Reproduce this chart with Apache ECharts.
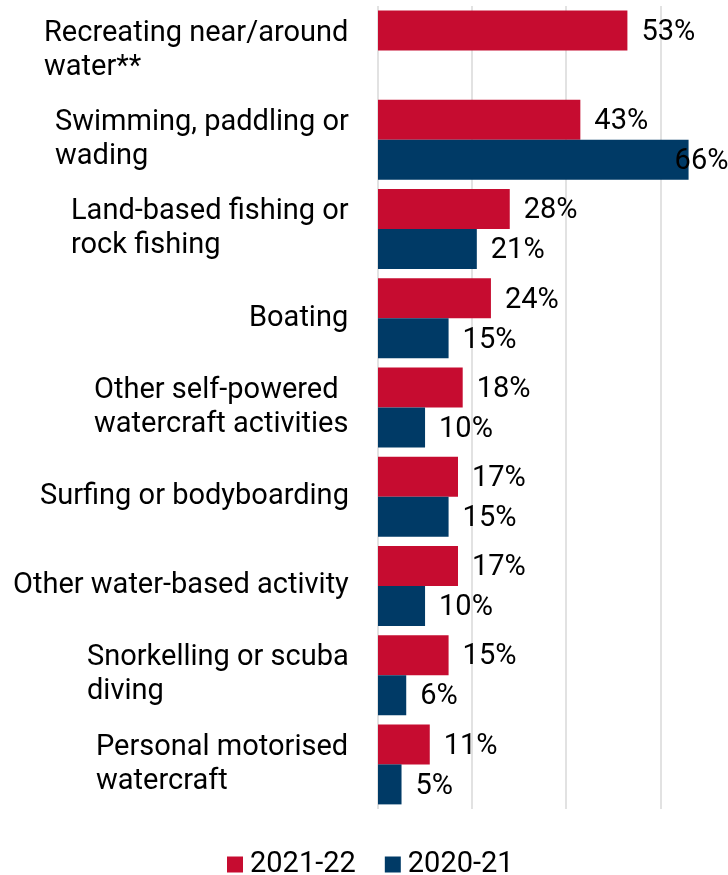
<!DOCTYPE html>
<html>
<head>
<meta charset="utf-8">
<script src="https://cdn.jsdelivr.net/npm/echarts@6/dist/echarts.min.js"></script>
<style>
  html, body { margin: 0; padding: 0; background: #fff; }
  #chart { width: 728px; height: 875px; }
</style>
</head>
<body>
<div id="chart"></div>
<script>
// Activity categories (top to bottom) and participation shares, %
const activities = [
  'Recreating near/around\nwater**',
  'Swimming, paddling or\nwading',
  'Land-based fishing or\nrock fishing',
  'Boating',
  'Other self-powered\nwatercraft activities',
  'Surfing or bodyboarding',
  'Other water-based activity',
  'Snorkelling or scuba\ndiving',
  'Personal motorised\nwatercraft'
];
const share2122 = [53, 43, 28, 24, 18, 17, 17, 15, 11];
const share2021 = [null, 66, 21, 15, 10, 15, 10, 6, 5];
const seriesNames = ['2021-22', '2020-21'];

const FONT = 'Roboto';
const CAT_SIZE = 29;
const VAL_SIZE = 29;

// Measure each wrapped label so its lines sit left-aligned inside a right-aligned block
const ctx = document.createElement('canvas').getContext('2d');
ctx.font = CAT_SIZE + 'px ' + FONT;
const rich = {};
activities.forEach((name, i) => {
  const w = Math.max(...name.split('\n').map(s => ctx.measureText(s).width));
  rich['c' + i] = {
    width: Math.ceil(w) + 1,
    align: 'left',
    fontFamily: FONT,
    fontSize: CAT_SIZE,
    lineHeight: 34,
    color: '#000'
  };
});

const valueLabel = {
  show: true,
  position: 'right',
  distance: 14,
  offset: [0, 2],
  formatter: p => p.value + '%',
  fontFamily: FONT,
  fontSize: VAL_SIZE,
  color: '#000'
};

// The widest bar's label is pulled back so it stays on the canvas
const data2021 = share2021.map(v => v === 66
  ? { value: v, label: { offset: [-28, 2] } }
  : v);

const grid = '#d9d9d9';

const chart = echarts.init(document.getElementById('chart'), null, { renderer: 'canvas' });
chart.setOption({
  animation: false,
  backgroundColor: '#fff',
  grid: { left: 378, right: 20.6, top: 6, bottom: 66, containLabel: false },
  legend: {
    data: seriesNames,
    left: 222,
    top: 845,
    icon: 'rect',
    itemWidth: 16,
    itemHeight: 16,
    itemGap: 29,
    textStyle: { fontFamily: FONT, fontSize: VAL_SIZE, color: '#000', padding: [0, 0, 0, 2] }
  },
  xAxis: {
    type: 'value',
    min: 0,
    max: 70,
    interval: 20,
    axisLabel: { show: false },
    axisLine: { show: false },
    axisTick: { show: false },
    // lines at 0, 20, 40, 60; the closing line at 70 stays hidden
    splitLine: { show: true, lineStyle: { color: [grid, grid, grid, grid, 'rgba(0,0,0,0)'], width: 1.5 } }
  },
  yAxis: {
    type: 'category',
    data: activities,
    inverse: true,
    axisLine: { show: false },
    axisTick: { show: false },
    axisLabel: {
      margin: 28,
      formatter: (value, i) => value.split('\n').map(s => '{c' + i + '|' + s + '}').join('\n'),
      rich: rich
    }
  },
  series: [
    {
      name: seriesNames[0],
      type: 'bar',
      data: share2122,
      barWidth: 40,
      barGap: '0%',
      barCategoryGap: '10%',
      itemStyle: { color: '#C60C30' },
      label: valueLabel
    },
    {
      name: seriesNames[1],
      type: 'bar',
      data: data2021,
      barWidth: 40,
      barGap: '0%',
      barCategoryGap: '10%',
      itemStyle: { color: '#003A66' },
      label: valueLabel
    }
  ]
});
</script>
</body>
</html>
